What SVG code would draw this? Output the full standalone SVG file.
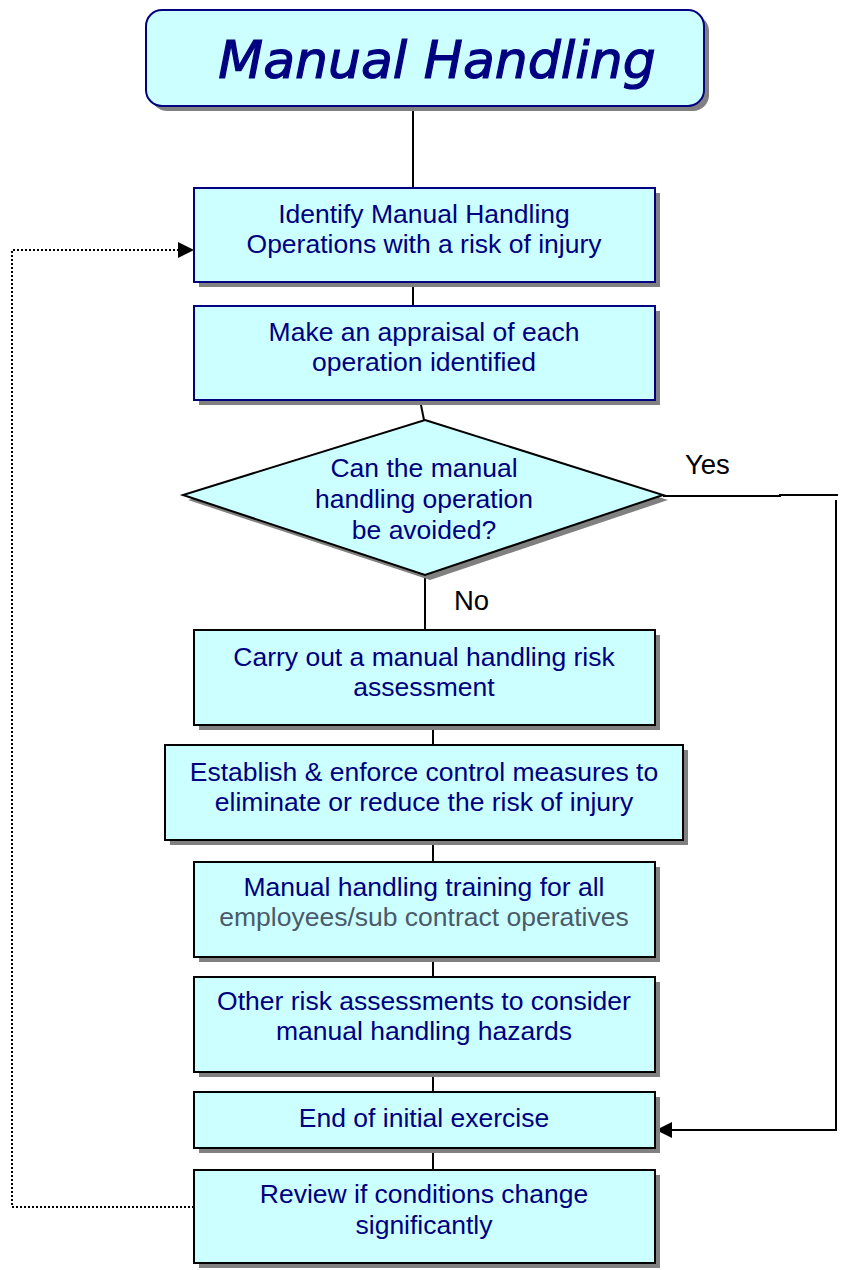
<svg xmlns="http://www.w3.org/2000/svg" width="843" height="1270" viewBox="0 0 843 1270">
<style>
.box{fill:#CCFFFF;stroke:#000000;stroke-width:2}
.nbox{fill:#CCFFFF;stroke:#000080;stroke-width:2}
.sh{fill:#808080}
.t{font-family:"Liberation Sans",Arial,sans-serif;font-size:26.5px;fill:#000080;text-anchor:middle}
.g{fill:#4A5A6A}
.lbl{font-family:"Liberation Sans",Arial,sans-serif;font-size:27.5px;fill:#000000}
.ln{stroke:#000000;stroke-width:2;fill:none}
.dot{stroke:#000000;stroke-width:2;fill:none;stroke-dasharray:2 2}
</style>
<defs>
<marker id="ah" viewBox="0 0 10 10" refX="10" refY="5" markerWidth="16" markerHeight="16" markerUnits="userSpaceOnUse" orient="auto">
<path d="M0,0 L10,5 L0,10 z" fill="#000000"/>
</marker>
</defs>
<g id="connectors">
<line class="ln" x1="413" y1="106" x2="413" y2="188"/>
<line class="ln" x1="413" y1="282" x2="413" y2="306"/>
<line class="ln" x1="420" y1="400" x2="424" y2="420"/>
<line class="ln" x1="425" y1="575" x2="425" y2="630"/>
<line class="ln" x1="433" y1="725" x2="433" y2="745"/>
<line class="ln" x1="433" y1="840" x2="433" y2="862"/>
<line class="ln" x1="433" y1="957" x2="433" y2="977"/>
<line class="ln" x1="433" y1="1072" x2="433" y2="1092"/>
<line class="ln" x1="433" y1="1148" x2="433" y2="1170"/>
<polyline class="ln" points="663,496 780,496 780,495 838,495"/>
<polyline class="ln" points="836,500 836,1130 656,1130" marker-end="url(#ah)"/>
<polyline class="dot" points="194,1207 12,1207 12,250 194,250" marker-end="url(#ah)"/>
<text class="lbl" x="685" y="474">Yes</text>
<text class="lbl" x="454" y="610">No</text>
</g>
<g id="title">
<rect x="151" y="15" width="558" height="96" rx="16" class="sh"/>
<rect x="146" y="10" width="558" height="96" rx="16" fill="#CCFFFF" stroke="#000080" stroke-width="2"/>
<text x="437" y="78" font-family="DejaVu Sans,Verdana,sans-serif" font-style="italic" font-size="52" fill="#000080" stroke="#000080" stroke-width="1.2" text-anchor="middle">Manual Handling</text>
</g>
<g id="n1">
<rect x="199" y="193" width="461" height="94" class="sh"/>
<rect x="194" y="188" width="461" height="94" class="nbox"/>
<text class="t" x="424" y="223">Identify Manual Handling</text>
<text class="t" x="424" y="253">Operations with a risk of injury</text>
</g>
<g id="n2">
<rect x="199" y="311" width="461" height="94" class="sh"/>
<rect x="194" y="306" width="461" height="94" class="nbox"/>
<text class="t" x="424" y="341">Make an appraisal of each</text>
<text class="t" x="424" y="371">operation identified</text>
</g>
<g id="decision">
<polygon points="430,425 668,500 430,580 188,500" class="sh"/>
<polygon points="425,420 663,495 425,575 183,495" fill="#CCFFFF" stroke="#000000" stroke-width="2"/>
<text class="t" x="424" y="477">Can the manual</text>
<text class="t" x="424" y="508">handling operation</text>
<text class="t" x="424" y="539">be avoided?</text>
</g>
<g id="n3">
<rect x="199" y="635" width="461" height="95" class="sh"/>
<rect x="194" y="630" width="461" height="95" class="box"/>
<text class="t" x="424" y="666">Carry out a manual handling risk</text>
<text class="t" x="424" y="696">assessment</text>
</g>
<g id="n4">
<rect x="170" y="750" width="518" height="95" class="sh"/>
<rect x="165" y="745" width="518" height="95" class="box"/>
<text class="t" x="424" y="781">Establish &amp; enforce control measures to</text>
<text class="t" x="424" y="811">eliminate or reduce the risk of injury</text>
</g>
<g id="n5">
<rect x="199" y="867" width="461" height="95" class="sh"/>
<rect x="194" y="862" width="461" height="95" class="box"/>
<text class="t" x="424" y="896">Manual handling training for all</text>
<text class="t g" x="424" y="926">employees/sub contract operatives</text>
</g>
<g id="n6">
<rect x="199" y="982" width="461" height="95" class="sh"/>
<rect x="194" y="977" width="461" height="95" class="box"/>
<text class="t" x="424" y="1010">Other risk assessments to consider</text>
<text class="t" x="424" y="1040">manual handling hazards</text>
</g>
<g id="n7">
<rect x="199" y="1097" width="461" height="56" class="sh"/>
<rect x="194" y="1092" width="461" height="56" class="box"/>
<text class="t" x="424" y="1127">End of initial exercise</text>
</g>
<g id="n8">
<rect x="199" y="1175" width="461" height="93" class="sh"/>
<rect x="194" y="1170" width="461" height="93" class="box"/>
<text class="t" x="424" y="1203">Review if conditions change</text>
<text class="t" x="424" y="1234">significantly</text>
</g>
</svg>
